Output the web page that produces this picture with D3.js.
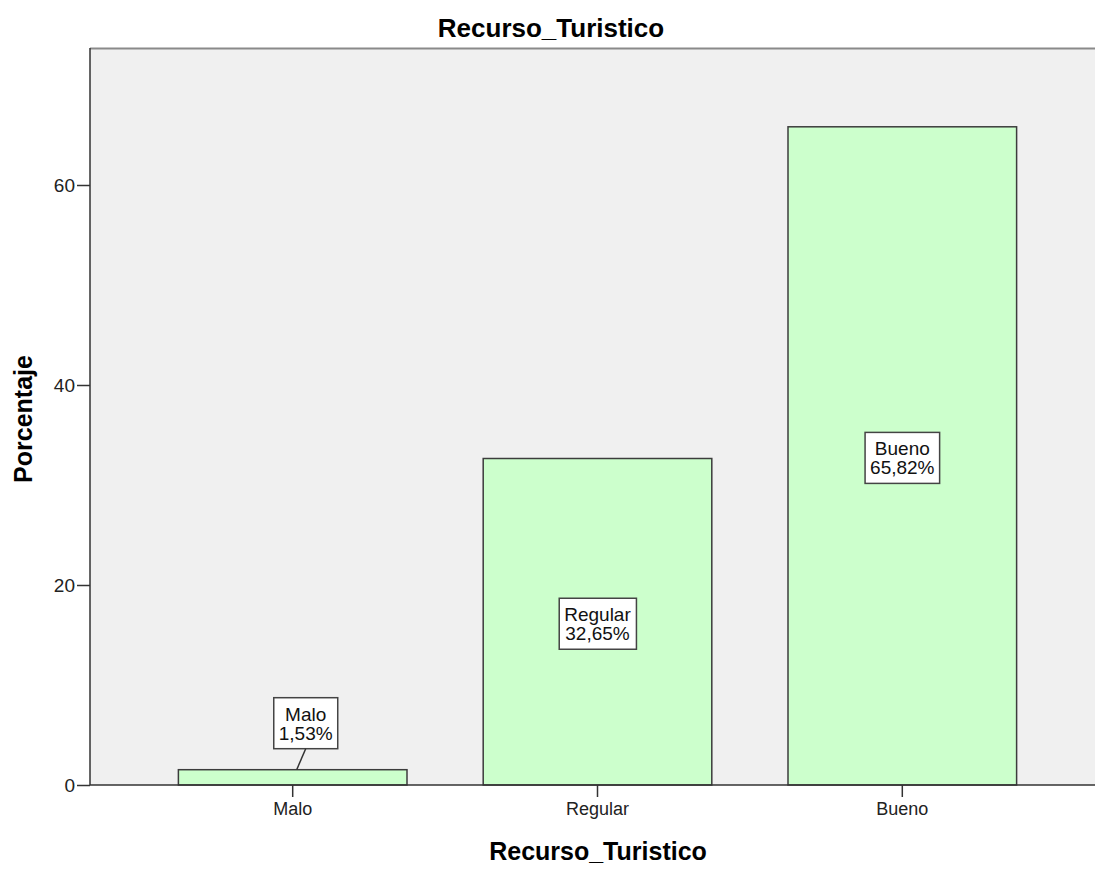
<!DOCTYPE html>
<html>
<head>
<meta charset="utf-8">
<script src="https://cdn.jsdelivr.net/npm/d3@7"></script>
<style>
  body { margin: 0; background: #fff; }
  svg { display: block; font-family: "Liberation Sans", Arial, sans-serif; }
</style>
</head>
<body>
<div id="chart"></div>
<script>
const categories = ["Malo", "Regular", "Bueno"];
const percents = [1.53, 32.65, 65.82];
const labels = ["1,53%", "32,65%", "65,82%"];
const yTicks = [0, 20, 40, 60];

const W = 1095, H = 870;
const margin = {top: 48, left: 90, bottom: 85};
const plotBottom = H - margin.bottom;

const svg = d3.select("#chart").append("svg")
    .attr("width", W)
    .attr("height", H);

// scales
const x = d3.scaleBand()
    .domain(categories)
    .range([margin.left, 1105])
    .paddingInner(0.25)
    .paddingOuter(0.29);

const y = d3.scaleLinear()
    .domain([0, 73.7])
    .range([plotBottom, margin.top]);

// plot background
svg.append("rect")
    .attr("x", margin.left)
    .attr("y", margin.top)
    .attr("width", W - margin.left)
    .attr("height", plotBottom - margin.top)
    .attr("fill", "#f0f0f0");

// top frame line
svg.append("line")
    .attr("x1", margin.left).attr("x2", W)
    .attr("y1", margin.top + 0.5).attr("y2", margin.top + 0.5)
    .attr("stroke", "#8a8a8a").attr("stroke-width", 2);

// bars
svg.append("g")
    .selectAll("rect")
    .data(categories)
    .join("rect")
    .attr("x", d => x(d))
    .attr("y", (d, i) => y(percents[i]))
    .attr("width", x.bandwidth())
    .attr("height", (d, i) => plotBottom - y(percents[i]))
    .attr("fill", "#ccffcc")
    .attr("stroke", "#3c3c3c")
    .attr("stroke-width", 1.5);

// y axis
const yAxis = svg.append("g")
    .attr("transform", `translate(${margin.left},0)`)
    .call(d3.axisLeft(y).tickValues(yTicks).tickSize(13).tickSizeOuter(0).tickPadding(2));
yAxis.select(".domain").attr("stroke", "#333").attr("stroke-width", 1.5)
    .attr("d", `M0,${margin.top}V${plotBottom}`);
yAxis.selectAll(".tick line").attr("stroke", "#333").attr("stroke-width", 1.5);
yAxis.selectAll("text").attr("font-size", 19).attr("fill", "#222")
    .attr("font-family", "Liberation Sans, Arial, sans-serif");

// x axis
const xAxis = svg.append("g")
    .attr("transform", `translate(0,${plotBottom})`)
    .call(d3.axisBottom(x).tickSize(12).tickSizeOuter(0).tickPadding(5));
xAxis.select(".domain").attr("d", `M${margin.left},0H${W}`)
    .attr("stroke", "#333").attr("stroke-width", 1.5);
xAxis.selectAll(".tick line").attr("stroke", "#333").attr("stroke-width", 1.5);
xAxis.selectAll("text").attr("font-size", 18).attr("fill", "#222")
    .attr("font-family", "Liberation Sans, Arial, sans-serif");

// value labels
const lab = svg.append("g");
categories.forEach((c, i) => {
    const small = percents[i] < 5;
    const cx = x(c) + x.bandwidth() / 2 + (small ? 13 : 0);
    const cy = small ? y(percents[i]) - 46.5 : y(percents[i] / 2) + 2;
    const g = lab.append("g");
    const t = g.append("text")
        .attr("text-anchor", "middle")
        .attr("font-size", 19)
        .attr("fill", "#111");
    t.append("tspan").attr("x", cx).attr("y", cy - 2.5).text(c);
    t.append("tspan").attr("x", cx).attr("y", cy + 16.5).text(labels[i]);
    const bb = t.node().getBBox();
    g.insert("rect", "text")
        .attr("x", bb.x - 5)
        .attr("y", cy - 25.5)
        .attr("width", bb.width + 10)
        .attr("height", 51)
        .attr("fill", "#fff")
        .attr("stroke", "#444")
        .attr("stroke-width", 1.5);
    if (small) {
        g.append("line")
            .attr("x1", cx).attr("y1", cy + 25.5)
            .attr("x2", cx - 9).attr("y2", y(percents[i]))
            .attr("stroke", "#333").attr("stroke-width", 1.5);
    }
});

// titles
svg.append("text")
    .attr("x", 551).attr("y", 37)
    .attr("text-anchor", "middle")
    .attr("font-size", 26).attr("font-weight", "bold")
    .text("Recurso_Turistico");

svg.append("text")
    .attr("x", 598).attr("y", 860)
    .attr("text-anchor", "middle")
    .attr("font-size", 25).attr("font-weight", "bold")
    .text("Recurso_Turistico");

svg.append("text")
    .attr("transform", `translate(32,419) rotate(-90)`)
    .attr("text-anchor", "middle")
    .attr("font-size", 25).attr("font-weight", "bold")
    .text("Porcentaje");
</script>
</body>
</html>
